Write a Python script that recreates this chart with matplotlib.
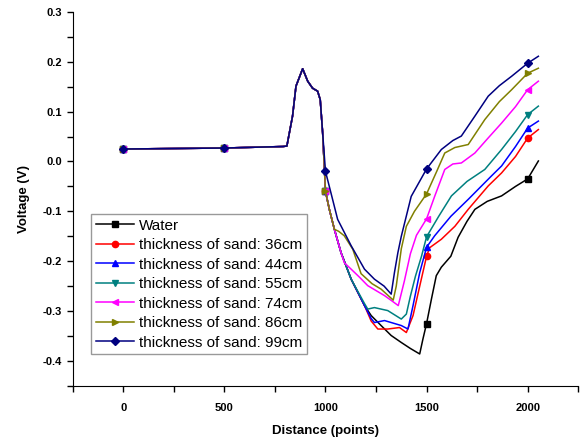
import numpy as np
import matplotlib
matplotlib.use("Agg")
import matplotlib.pyplot as plt
from matplotlib.ticker import MultipleLocator

plt.rcParams['font.family'] = ['Liberation Sans', 'DejaVu Sans']

# shared part of all curves (flat baseline, peak, shoulder)
base_x = [0, 500, 790, 809, 837, 854, 887, 912, 936, 961, 974, 986]
base_y = [0.025, 0.027, 0.030, 0.031, 0.091, 0.151, 0.186, 0.161, 0.147, 0.141, 0.124, 0.057]

water_x = [1000, 1019, 1044, 1077, 1127, 1193, 1226, 1275, 1325, 1375, 1420, 1466, 1482, 1500,
           1524, 1548, 1573, 1620, 1656, 1700, 1739, 1800, 1871, 1940, 2000, 2053]
water_y = [-0.06, -0.096, -0.136, -0.183, -0.236, -0.289, -0.309, -0.329, -0.349, -0.363, -0.375,
           -0.386, -0.356, -0.325, -0.276, -0.229, -0.212, -0.19, -0.152, -0.12, -0.096, -0.08,
           -0.069, -0.05, -0.035, 0.001]

s36_x = [1000, 1019, 1044, 1077, 1127, 1193, 1226, 1259, 1308, 1366, 1400, 1433, 1474, 1500,
         1515, 1573, 1640, 1706, 1805, 1871, 1940, 2000, 2053]
s36_y = [-0.06, -0.096, -0.136, -0.183, -0.236, -0.289, -0.32, -0.336, -0.336, -0.333, -0.343,
         -0.309, -0.236, -0.19, -0.173, -0.156, -0.13, -0.096, -0.049, -0.023, 0.01, 0.047, 0.064]

s44_x = [1000, 1019, 1044, 1077, 1127, 1193, 1226, 1242, 1292, 1375, 1408, 1433, 1466, 1500,
         1540, 1620, 1706, 1821, 1871, 1940, 2000, 2053]
s44_y = [-0.06, -0.096, -0.136, -0.183, -0.236, -0.289, -0.315, -0.323, -0.319, -0.329, -0.336,
         -0.289, -0.223, -0.172, -0.149, -0.11, -0.076, -0.029, -0.009, 0.03, 0.067, 0.081]

s55_x = [1000, 1019, 1044, 1077, 1127, 1193, 1209, 1242, 1308, 1375, 1400, 1420, 1445, 1475,
         1500, 1560, 1623, 1700, 1788, 1871, 1940, 2000, 2053]
s55_y = [-0.06, -0.096, -0.136, -0.183, -0.236, -0.285, -0.296, -0.293, -0.299, -0.316, -0.306,
         -0.27, -0.23, -0.19, -0.151, -0.11, -0.069, -0.04, -0.016, 0.024, 0.06, 0.094, 0.111]

s74_x = [1000, 1019, 1044, 1077, 1093, 1127, 1168, 1209, 1292, 1330, 1360, 1390, 1420, 1450,
         1500, 1540, 1590, 1630, 1672, 1739, 1800, 1871, 1940, 2000, 2053]
s74_y = [-0.06, -0.096, -0.136, -0.183, -0.203, -0.216, -0.232, -0.249, -0.269, -0.28, -0.289,
         -0.24, -0.185, -0.148, -0.115, -0.07, -0.016, -0.005, -0.003, 0.017, 0.045, 0.077, 0.11,
         0.144, 0.161]

s86_x = [1000, 1019, 1044, 1065, 1093, 1135, 1176, 1230, 1275, 1335, 1350, 1375, 1400, 1440,
         1500, 1550, 1590, 1640, 1706, 1788, 1860, 1921, 2000, 2053]
s86_y = [-0.06, -0.096, -0.136, -0.14, -0.149, -0.176, -0.225, -0.245, -0.256, -0.278, -0.25,
         -0.175, -0.13, -0.1, -0.065, -0.02, 0.017, 0.028, 0.034, 0.084, 0.12, 0.144, 0.177, 0.187]

s99_x = [1000, 1027, 1060, 1127, 1193, 1242, 1290, 1325, 1341, 1358, 1375, 1424, 1500, 1573,
         1630, 1672, 1739, 1805, 1860, 1921, 2000, 2053]
s99_y = [-0.02, -0.063, -0.116, -0.169, -0.216, -0.236, -0.25, -0.266, -0.223, -0.183, -0.15,
         -0.07, -0.015, 0.024, 0.042, 0.051, 0.091, 0.131, 0.152, 0.171, 0.197, 0.211]

labels = ['Water', 'thickness of sand: 36cm', 'thickness of sand: 44cm', 'thickness of sand: 55cm',
          'thickness of sand: 74cm', 'thickness of sand: 86cm', 'thickness of sand: 99cm']
colors = ['black', 'red', 'blue', '#008080', 'magenta', '#808000', '#000080']
markers = ['s', 'o', '^', 'v', '<', '>', 'D']
tails = [(water_x, water_y), (s36_x, s36_y), (s44_x, s44_y), (s55_x, s55_y),
         (s74_x, s74_y), (s86_x, s86_y), (s99_x, s99_y)]
mark_at = [0, 500, 1000, 1500, 2000]

fig = plt.figure(figsize=(5.87, 4.40), dpi=100)
ax = fig.add_axes([0.124, 0.123, 0.861, 0.850])

for (tx, ty), lab, c, m in zip(tails, labels, colors, markers):
    x = np.array(base_x + tx)
    y = np.array(base_y + ty)
    idx = list(np.where(np.isin(x, mark_at))[0])
    ax.plot(x, y, color=c, lw=1.1, marker=m, markersize=4.5, markevery=idx, label=lab)

ax.set_xlim(-250, 2250)
ax.set_ylim(-0.45, 0.3)
ax.xaxis.set_major_locator(MultipleLocator(500))
ax.xaxis.set_minor_locator(MultipleLocator(250))
ax.yaxis.set_major_locator(MultipleLocator(0.1))
ax.yaxis.set_minor_locator(MultipleLocator(0.05))
ax.yaxis.set_major_formatter(plt.FuncFormatter(lambda v, p: '%.1f' % v))

for s in ['top', 'right']:
    ax.spines[s].set_visible(False)
ax.tick_params(which='both', direction='out', length=4, width=1)
ax.tick_params(axis='x', pad=8)
for lbl in ax.get_xticklabels() + ax.get_yticklabels():
    lbl.set_fontweight('bold')
    lbl.set_fontsize(8)

ax.set_xlabel('Distance (points)', fontsize=9.5, fontweight='bold', labelpad=9)
ax.set_ylabel('Voltage (V)', fontsize=9.5, fontweight='bold', labelpad=9)

leg = ax.legend(loc='lower left', bbox_to_anchor=(0.037, 0.085), fontsize=11, fancybox=False,
                edgecolor='#999999', framealpha=1, handlelength=2.5, handletextpad=0.3,
                labelspacing=0.36, borderpad=0.3, borderaxespad=0)

fig.savefig('out.png', dpi=100)
